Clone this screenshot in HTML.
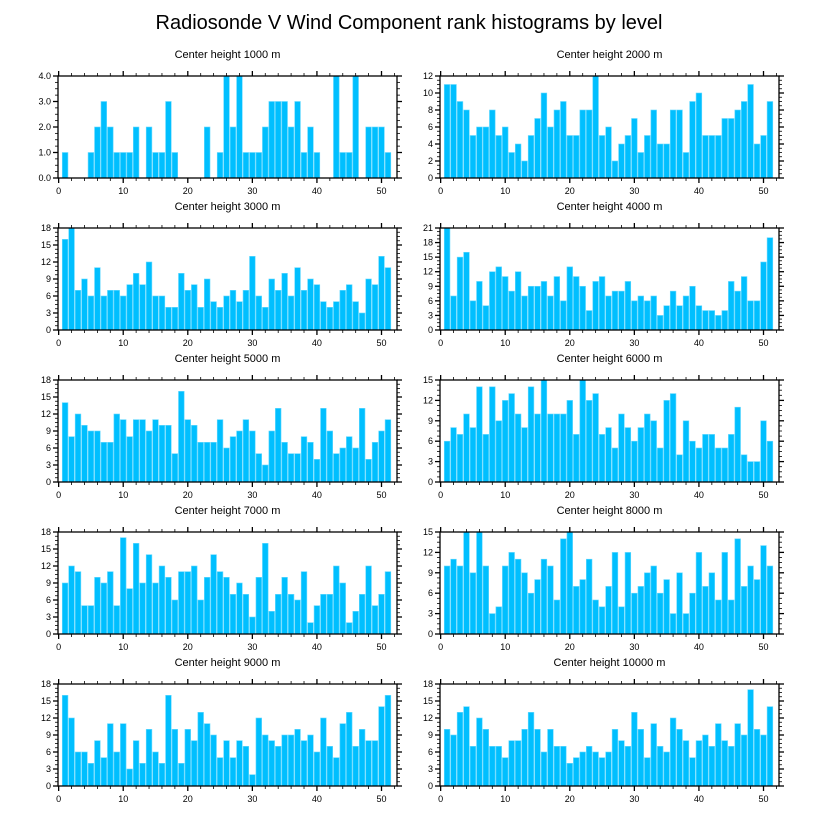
<!DOCTYPE html>
<html><head><meta charset="utf-8"><style>
body{margin:0;background:#fff;}
svg{display:block;font-family:"Liberation Sans",sans-serif;}
</style></head><body>
<svg id="chart" width="818" height="824" viewBox="0 0 818 824">
<text x="409" y="29" text-anchor="middle" font-size="20" fill="#000">Radiosonde V Wind Component rank histograms by level</text>
</svg>
<script>
const levels = [1000,2000,3000,4000,5000,6000,7000,8000,9000,10000];
const yMaxes = [4,12,18,21,18,15,18,15,18,18];
const yStepsMajor = [1,2,3,3,3,3,3,3,3,3];
const xTickLabels = [0,10,20,30,40,50];
const v1000 = [1,0,0,0,1,2,3,2,1,1,1,2,0,2,1,1,3,1,0,0,0,0,2,0,1,4,2,4,1,1,1,2,3,3,3,2,3,1,2,1,0,0,4,1,1,4,0,2,2,2,1];
const v2000 = [11,11,9,8,5,6,6,8,5,6,3,4,2,5,7,10,6,8,9,5,5,8,8,12,5,6,2,4,5,7,3,5,8,4,4,8,8,3,9,10,5,5,5,7,7,8,9,11,4,5,9];
const v3000 = [16,18,7,9,6,11,6,7,7,6,8,10,8,12,6,6,4,4,10,7,8,4,9,5,4,6,7,5,7,13,6,4,9,7,10,6,11,7,9,8,5,4,5,7,8,5,3,9,8,13,11];
const v4000 = [21,7,15,16,6,10,5,12,13,11,8,12,7,9,9,10,7,11,6,13,11,9,4,10,11,7,8,8,10,6,7,6,7,3,5,8,5,7,9,5,4,4,3,4,10,8,11,6,6,14,19];
const v5000 = [14,8,12,10,9,9,7,7,12,11,8,11,11,9,11,10,10,5,16,11,10,7,7,7,11,6,8,9,11,9,5,3,9,13,7,5,5,8,7,4,13,9,5,6,8,6,13,4,7,9,11];
const v6000 = [6,8,7,10,8,14,7,14,9,12,13,10,8,14,10,15,10,10,10,12,7,15,12,13,7,8,5,10,8,6,8,10,9,5,12,13,4,9,6,5,7,7,5,5,7,11,4,3,3,9,6];
const v7000 = [9,12,11,5,5,10,9,11,5,17,8,16,9,14,9,12,10,6,11,11,12,6,10,14,11,10,7,9,7,3,10,16,4,7,10,7,6,11,2,5,7,7,12,9,2,4,7,12,5,7,11];
const v8000 = [10,11,10,15,9,15,10,3,4,10,12,11,9,6,8,11,10,5,14,15,7,8,11,5,4,7,12,4,12,6,7,9,10,6,8,3,9,3,6,12,7,9,5,12,5,14,7,10,8,13,10];
const v9000 = [16,12,6,6,4,8,5,11,6,11,3,8,4,10,6,4,16,10,4,10,8,13,11,9,5,8,5,8,7,2,12,9,8,7,9,9,10,8,9,6,12,7,5,11,13,7,10,8,8,14,16];
const v10000 = [10,9,13,14,7,12,10,7,7,5,8,8,10,13,10,6,10,7,7,4,5,6,7,6,5,6,10,8,7,13,10,5,11,7,6,12,10,8,5,8,9,7,11,8,7,11,9,17,10,9,14];
const allSeries = [v1000,v2000,v3000,v4000,v5000,v6000,v7000,v8000,v9000,v10000];

const NS = "http://www.w3.org/2000/svg";
const svg = document.getElementById('chart');
function mk(tag, attrs, parent){const e=document.createElementNS(NS,tag);for(const k in attrs)e.setAttribute(k,attrs[k]);(parent||svg).appendChild(e);return e;}

const W = 339, H = 102, xMin = -0.1, xMax = 52.4;
allSeries.forEach((vals, p) => {
  const col = p % 2, row = Math.floor(p/2);
  const L = col ? 440 : 58, T = 76 + row*152;
  const xs = v => L + (v - xMin)/(xMax - xMin)*W;
  const ys = v => T + H - v/yMaxes[p]*H;
  const g = mk('g', {});
  
  
  const t = mk('text', {x: L + W/2, y: T - 18, 'text-anchor':'middle', 'font-size':11}, g);
  t.textContent = 'Center height ' + levels[p] + ' m';
  
  
  vals.forEach((v, i) => {
    if (v <= 0) return;
    const c = i + 1, bw = 0.88;
    const r = mk('rect', {x: xs(c - bw/2), y: ys(v), width: xs(c + bw/2) - xs(c - bw/2), height: ys(0) - ys(v), fill:'#00bfff', stroke:'#66d9ff', 'stroke-width':0.6}, g);
    
    
  });
  mk('rect', {x:L, y:T, width:W, height:H, fill:'none', stroke:'#000', 'stroke-width':1.3}, g);
  // x ticks
  for (let v = 0; v <= 52; v += 2) {
    const major = v % 10 === 0, len = major ? 5 : 3;
    mk('line', {x1:xs(v), x2:xs(v), y1:T+H, y2:T+H+len, stroke:'#000', 'stroke-width': major?1.3:0.8}, g);
    mk('line', {x1:xs(v), x2:xs(v), y1:T, y2:T-len, stroke:'#000', 'stroke-width': major?1.3:0.8}, g);
  }
  xTickLabels.forEach(v => {
    const tl = mk('text', {x: xs(v), y: T+H+16, 'text-anchor':'middle', 'font-size':9}, g);
    tl.textContent = v;
    
    
  });
  // y ticks
  const st = yStepsMajor[p], minor = st/4;
  for (let k = 0; k*minor <= yMaxes[p] + 1e-9; k++) {
    const v = k*minor, major = k % 4 === 0, len = major ? 5 : 3;
    mk('line', {x1:L, x2:L-len, y1:ys(v), y2:ys(v), stroke:'#000', 'stroke-width': major?1.3:0.8}, g);
    mk('line', {x1:L+W, x2:L+W+len, y1:ys(v), y2:ys(v), stroke:'#000', 'stroke-width': major?1.3:0.8}, g);
    if (major) {
      const yl = mk('text', {x: L-7, y: ys(v)+3, 'text-anchor':'end', 'font-size':9}, g);
      yl.textContent = p === 0 ? v.toFixed(1) : v;
      
      
    }
  }
});
</script>
</body></html>
